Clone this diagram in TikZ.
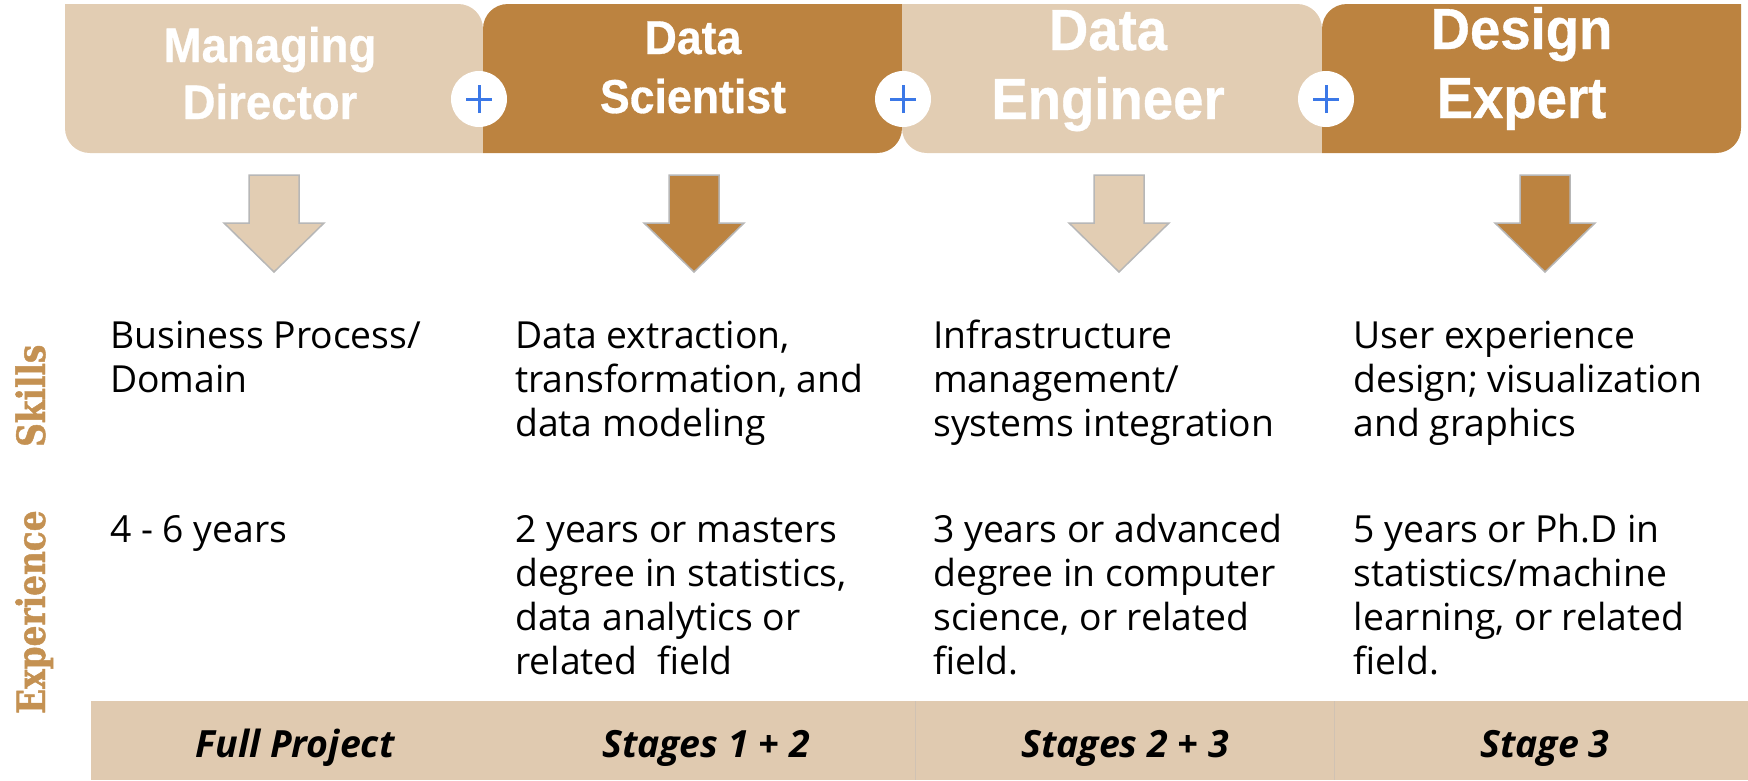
\documentclass[tikz,border=0pt]{standalone}
\usepackage{fontspec}
\setmainfont{Open Sans}
\newfontfamily\headfont[FakeStretch=0.94,BoldFeatures={FakeBold=0.6}]{Liberation Sans}
\newfontfamily\slabfont[BoldFont={DejaVu Serif Bold},BoldFeatures={FakeStretch=0.84,FakeBold=1.2}]{DejaVu Serif}
\definecolor{tan}{HTML}{E2CDB3}
\definecolor{bandtan}{HTML}{E0CAB0}
\definecolor{brown}{HTML}{BC8340}
\definecolor{sidebrown}{HTML}{C49152}
\definecolor{plusblue}{HTML}{3B78E7}
\definecolor{arrowgray}{HTML}{B7B7B7}
\tikzset{
  headtext/.style={text=white,inner sep=0pt,anchor=base,font=\headfont\bfseries\fontsize{#1}{#1}\selectfont},
  bodytext/.style={anchor=north west,inner sep=0pt,align=left,text=black,font=\fontsize{37.3}{44}\selectfont},
  bandtext/.style={anchor=base,inner sep=0pt,text=black,font=\bfseries\itshape\fontsize{37.5}{44}\selectfont},
  sidetext/.style={anchor=base west,inner sep=0pt,rotate=90,text=sidebrown,font=\slabfont\bfseries\fontsize{39}{44}\selectfont},
  plusdisc/.style={circle,fill=white,minimum size=56pt,inner sep=0pt},
  downarrow/.style={draw=arrowgray,line width=1.5pt,line join=miter,fill=#1},
  plusbar/.style={draw=plusblue,line width=3pt}
}
% box with round top-right and bottom-left corners
\newcommand{\boxA}[3]{%
  \fill[#3] (#1,4) -- (#2-25,4) .. controls (#2-11,4) and (#2,15) .. (#2,29) -- (#2,153) -- (#1+25,153) .. controls (#1+11,153) and (#1,142) .. (#1,128) -- cycle;}
% box with round top-left and bottom-right corners
\newcommand{\boxB}[3]{%
  \fill[#3] (#1+25,4) -- (#2,4) -- (#2,128) .. controls (#2,142) and (#2-11,153) .. (#2-25,153) -- (#1,153) -- (#1,29) .. controls (#1,15) and (#1+11,4) .. (#1+25,4) -- cycle;}
\newcommand{\downshape}[2]{%
  \draw[downarrow=#2] (#1-25,175) -- (#1+25,175) -- (#1+25,223) -- (#1+50,223) -- (#1,272) -- (#1-50,223) -- (#1-25,223) -- cycle;}
\newcommand{\plusmark}[2]{%
  \node[plusdisc] (#1) at (#2,99) {};
  \draw[plusbar] ([xshift=-13pt]#1.center) -- ([xshift=13pt]#1.center);
  \draw[plusbar] ([yshift=-14pt]#1.center) -- ([yshift=14pt]#1.center);}
\begin{document}
\begin{tikzpicture}[x=1pt,y=-1pt]
\useasboundingbox (0,0) rectangle (1748,780);
% header boxes
\boxA{65}{483}{tan}
\boxB{483}{902}{brown}
\boxA{902}{1322}{tan}
\boxB{1322}{1741}{brown}
% plus discs
\plusmark{plusA}{479}
\plusmark{plusB}{903}
\plusmark{plusC}{1326}
% header texts
\node[headtext=48.5] (hA1) at (270,62) {Managing};
\node[headtext=48.5] (hA2) at (270,119) {Director};
\node[headtext=47.5] (hB1) at (693,54) {Data};
\node[headtext=47.5] (hB2) at (693,113) {Scientist};
\node[headtext=58] (hC1) at (1108,50) {Data};
\node[headtext=58] (hC2) at (1108,119) {Engineer};
\node[headtext=58] (hD1) at (1521.5,49) {Design};
\node[headtext=58] (hD2) at (1521.5,118) {Expert};
% arrows
\downshape{274}{tan}
\downshape{694}{brown}
\downshape{1119}{tan}
\downshape{1545}{brown}
% side labels
\node[sidetext] (skills) at (45,447) {Skills};
\node[sidetext] (exper) at (45,714) {Experience};
% skills
\node[bodytext] (s1) at (110,317.2) {\strut Business Process/\\Domain};
\node[bodytext] (s2) at (515,317.2) {\strut Data extraction,\\transformation, and\\data modeling};
\node[bodytext] (s3) at (933,317.2) {\strut Infrastructure\\management/\\systems integration};
\node[bodytext] (s4) at (1353.5,317.2) {\strut User experience\\design; visualization\\and graphics};
% experience
\node[bodytext] (e1) at (110,511) {\strut 4 - 6 years};
\node[bodytext] (e2) at (515,511) {\strut 2 years or masters\\degree in statistics,\\data analytics or\\related\ \ field};
\node[bodytext] (e3) at (933,511) {\strut 3 years or advanced\\degree in computer\\science, or related\\field.};
\node[bodytext] (e4) at (1353.5,511) {\strut 5 years or Ph.D in\\statistics/machine\\learning, or related\\field.};
% band
\fill[bandtan] (91,701) rectangle (1748,780);
\draw[arrowgray!40!bandtan,line width=1pt] (915,701) -- (915,780);
\draw[arrowgray!40!bandtan,line width=1pt] (1334,701) -- (1334,780);
\node[bandtext] (b1) at (295,757) {Full Project};
\node[bandtext] (b2) at (706,757) {Stages 1 + 2};
\node[bandtext] (b3) at (1125,757) {Stages 2 + 3};
\node[bandtext] (b4) at (1545,757) {Stage 3};
\end{tikzpicture}
\end{document}
